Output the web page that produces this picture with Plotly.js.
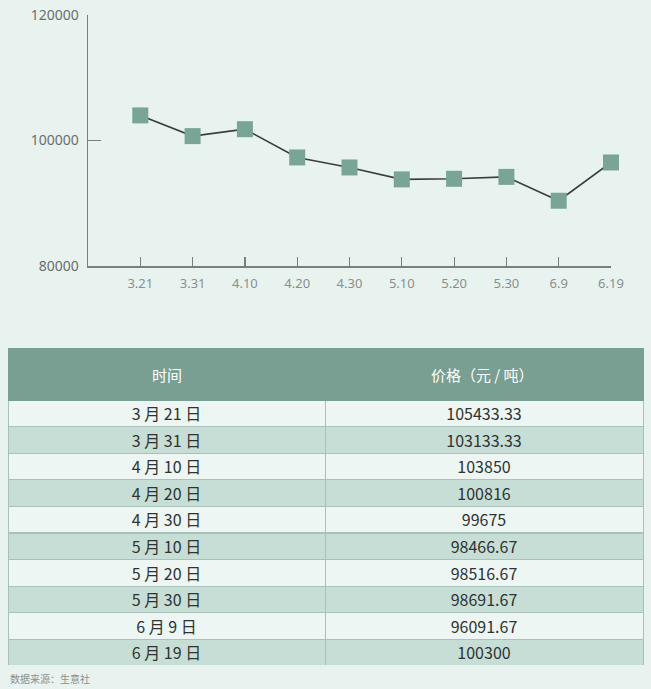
<!DOCTYPE html>
<html>
<head>
<meta charset="utf-8">
<script src="https://cdn.plot.ly/plotly-3.0.1.min.js"></script>
<style>
  html, body { margin: 0; padding: 0; background: #e8f3f0; }
  #chart { width: 651px; height: 689px; }
</style>
</head>
<body>
<div id="chart"></div>
<script>
const dates = ['3.21', '3.31', '4.10', '4.20', '4.30', '5.10', '5.20', '5.30', '6.9', '6.19']
const plotted = [104000, 100700, 101800, 97300, 95700, 93800, 93900, 94200, 90400, 96500]

// table
const tableDates = ['3 月 21 日', '3 月 31 日', '4 月 10 日', '4 月 20 日', '4 月 30 日',
  '5 月 10 日', '5 月 20 日', '5 月 30 日', '6 月 9 日', '6 月 19 日']
const tablePrices = ['105433.33', '103133.33', '103850', '100816', '99675',
  '98466.67', '98516.67', '98691.67', '96091.67', '100300']
const headers = ['时间', '价格（元 / 吨）']

const W = 651, H = 689
const bg = '#e8f3f0'
const green = '#7aa596'

const rowColors = tableDates.map((_, i) => i % 2 === 0 ? '#edf6f3' : '#c7ded6')

const line = {
  x: dates,
  y: plotted,
  type: 'scatter',
  mode: 'lines+markers',
  cliponaxis: false,
  line: { color: '#3a3f3d', width: 1.6 },
  marker: { symbol: 'square', size: 16, color: green },
  hoverinfo: 'x+y'
}

// header text is put on as annotations so it sits in the middle of the tall header
const table = {
  type: 'table',
  domain: { x: [8 / W, 643 / W], y: [1 - 665 / H, 1 - 348 / H] },
  columnwidth: [317, 318],
  header: {
    values: ['', ''],
    height: 52,
    fill: { color: '#789f91' },
    line: { color: '#789f91', width: 1 }
  },
  cells: {
    values: [tableDates, tablePrices],
    height: 26.6,
    align: 'center',
    fill: { color: [rowColors, rowColors] },
    line: { color: '#a8c2b9', width: 1 },
    font: { family: 'Noto Sans CJK SC', size: 16, color: '#2e3331' }
  }
}

const headerNotes = headers.map((h, i) => ({
  text: h,
  xref: 'paper', yref: 'paper',
  x: i === 0 ? 167 / W : 482 / W,
  y: 1 - 374 / H,
  xanchor: 'center', yanchor: 'middle',
  showarrow: false,
  font: { family: 'Noto Sans CJK SC', size: 15, color: '#ffffff' }
}))

const layout = {
  width: W,
  height: H,
  margin: { l: 0, r: 0, t: 0, b: 0 },
  paper_bgcolor: bg,
  plot_bgcolor: bg,
  showlegend: false,
  xaxis: {
    domain: [88 / W, 611 / W],
    type: 'category',
    range: [-1, 9],
    showgrid: false,
    zeroline: false,
    showline: true,
    linecolor: '#7a7f7d',
    linewidth: 1.5,
    ticks: 'inside',
    ticklen: 9,
    tickcolor: '#7a7f7d',
    tickwidth: 1.2,
    ticklabelstandoff: 5,
    tickfont: { family: 'Noto Sans', size: 13, color: '#8a8f8d' },
    fixedrange: true
  },
  yaxis: {
    domain: [1 - 266 / H, 1 - 15 / H],
    range: [80000, 120000],
    tickvals: [80000, 100000, 120000],
    ticktext: ['80000', '100000', '120000'],
    showgrid: false,
    zeroline: false,
    showline: true,
    linecolor: '#7a7f7d',
    linewidth: 1.5,
    ticks: 'inside',
    ticklen: 13,
    tickcolor: '#7a7f7d',
    tickwidth: 1.2,
    ticklabelstandoff: 5,
    tickfont: { family: 'Noto Sans', size: 14, color: '#6a6f6d' },
    fixedrange: true
  },
  annotations: headerNotes.concat([{
    text: '数据来源：生意社',
    xref: 'paper', yref: 'paper',
    x: 8 / W, y: 1 - 678 / H,
    xanchor: 'left', yanchor: 'middle',
    showarrow: false,
    font: { family: 'Noto Sans CJK SC', size: 10, color: '#8a8f8d' }
  }])
}

Plotly.newPlot('chart', [line, table], layout, { displayModeBar: false, staticPlot: true })
</script>
</body>
</html>
